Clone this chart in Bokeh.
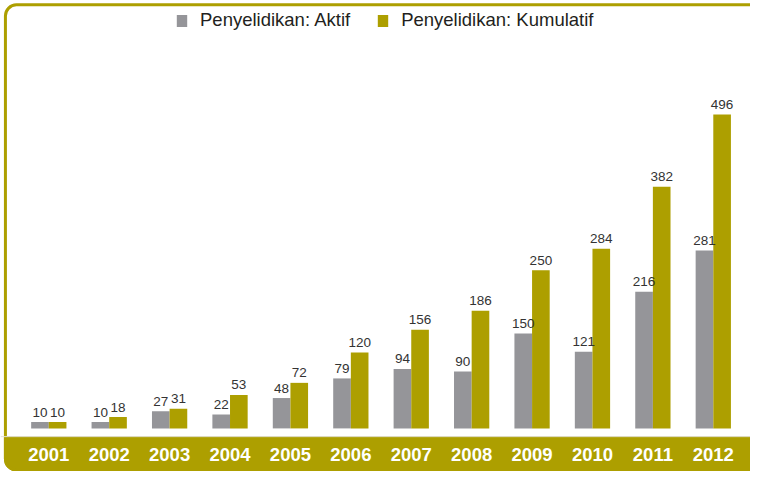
from bokeh.plotting import figure
from bokeh.models import Range1d, ColumnDataSource, BoxAnnotation, Legend, LegendItem, Span
from bokeh.core.properties import value
from bokeh.embed import file_html
from bokeh.resources import INLINE

years = ["2001", "2002", "2003", "2004", "2005", "2006", "2007", "2008", "2009", "2010", "2011", "2012"]
aktif = [10, 10, 27, 22, 48, 79, 94, 90, 150, 121, 216, 281]
kumulatif = [10, 18, 31, 53, 72, 120, 156, 186, 250, 284, 382, 496]
series_names = ["Penyelidikan: Aktif", "Penyelidikan: Kumulatif"]

GRAY = "#959599"
OLIVE = "#ad9f00"
W, H = 750, 471
BW = 0.292

idx = list(range(len(years)))
src = ColumnDataSource(dict(
    x=idx,
    xa=[i - BW / 2 for i in idx],
    xk=[i + BW / 2 for i in idx],
    aktif=aktif,
    kum=kumulatif,
    la=[str(v) for v in aktif],
    lk=[str(v) for v in kumulatif],
    yr=years,
    ylab=[-40.5] * len(years),
))

p = figure(width=W, height=H, output_backend="svg", toolbar_location=None,
           x_range=Range1d(-0.7995, 11.616), y_range=Range1d(-68.1, 676.3),
           min_border=0, min_border_left=0, min_border_right=0,
           min_border_top=0, min_border_bottom=0)
p.xaxis.visible = False
p.yaxis.visible = False
p.grid.visible = False
p.outline_line_color = None
p.background_fill_color = "white"
p.border_fill_color = "white"

# frame border
frame = BoxAnnotation(left=-0.718, right=14, top=669.4, bottom=-65.7,
                      fill_alpha=0, line_color=OLIVE, line_alpha=1, line_width=3,
                      border_radius=11, level="underlay")
p.add_layout(frame)
# bottom band
band = BoxAnnotation(left=-0.718, right=14, top=-14.5, bottom=-65.7,
                     fill_color=OLIVE, fill_alpha=1, line_color=OLIVE, line_alpha=1, line_width=3,
                     border_radius=(0, 0, 0, 11), level="underlay")
p.add_layout(band)
p.add_layout(Span(location=-13.0, dimension="width", line_color="#e4e2d8", line_width=1))

r1 = p.vbar(x="xa", top="aktif", bottom=0, width=BW, source=src, fill_color=GRAY, line_color=None)
r2 = p.vbar(x="xk", top="kum", bottom=0, width=BW, source=src, fill_color=OLIVE, line_color=None)

LBL_FONT = value("Liberation Sans")
p.text(x="xa", y="aktif", text="la", source=src, text_align="center", text_baseline="alphabetic",
       y_offset=-10, text_font=LBL_FONT, text_font_size="13.5px", text_color="#333333")
p.text(x="xk", y="kum", text="lk", source=src, text_align="center", text_baseline="alphabetic",
       y_offset=-10, text_font=LBL_FONT, text_font_size="13.5px", text_color="#333333")

p.text(x="x", y="ylab", text="yr", source=src, text_align="center", text_baseline="middle",
       text_font=value("Liberation Sans"), text_font_style="bold", text_font_size="18.5px",
       text_color="white")

legend = Legend(items=[LegendItem(label=series_names[0], renderers=[r1]),
                       LegendItem(label=series_names[1], renderers=[r2])],
                orientation="horizontal", location=(175, 440),
                label_text_font="Liberation Sans", label_text_font_size="18.5px",
                label_text_color="#231f20", glyph_width=13, glyph_height=15,
                label_standoff=12, spacing=26, padding=0, margin=0,
                border_line_color=None, background_fill_alpha=0)
p.add_layout(legend)

open("out.html", "w").write(file_html(p, INLINE))
